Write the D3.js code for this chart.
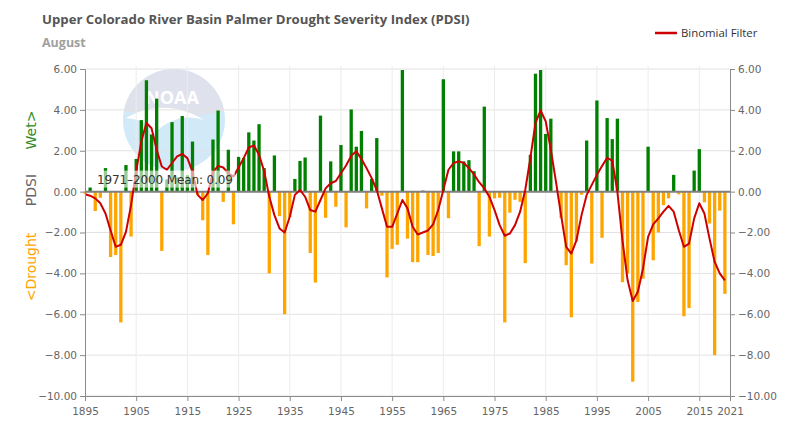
<!DOCTYPE html>
<html>
<head>
<meta charset="utf-8">
<script src="https://cdn.jsdelivr.net/npm/d3@7"></script>
<style>
  html, body { margin: 0; padding: 0; background: #fff; }
  svg { display: block; font-family: "DejaVu Sans", Verdana, sans-serif; }
</style>
</head>
<body>
<svg id="chart" width="800" height="443"></svg>
<script>
// August PDSI, Upper Colorado River Basin, one value per year from 1895
const firstYear = 1895;
const pdsi = [
  -0.1, 0.2, -0.95, -0.3, 1.15, -3.2, -3.1, -6.4, 1.3, -2.2,      // 1895-1904
  1.6, 3.5, 5.45, 2.8, 4.55, -2.9, 0.6, 3.4, 0.7, 3.7,            // 1905-1914
  0.8, 2.45, -0.15, -1.4, -3.1, 2.55, 3.97, -0.5, 2.05, -1.6,     // 1915-1924
  1.7, 1.65, 2.9, 2.5, 3.3, 1.15, -4.0, 1.77, -1.2, -6.0,         // 1925-1934
  -1.25, 0.62, 1.5, 1.67, -3.0, -4.45, 3.72, -1.28, 1.48, -0.74,  // 1935-1944
  2.28, -1.75, 4.02, 2.2, 2.97, -0.82, 0.62, 2.62, -0.2, -4.2,    // 1945-1954
  -2.8, -2.6, 5.95, -2.3, -3.45, -3.45, 0.05, -3.1, -3.15, -3.0,  // 1955-1964
  5.5, -1.3, 1.97, 1.97, 1.48, 1.54, 1.0, -2.67, 4.16, -2.2,      // 1965-1974
  -0.33, -0.3, -6.4, -1.03, -0.4, -0.5, -3.5, 1.8, 5.77, 5.95,    // 1975-1984
  2.82, 3.57, 0.05, -1.3, -3.6, -6.15, -2.43, -0.15, 2.5, -3.52,  // 1985-1994
  4.46, -2.26, 3.6, 2.57, 3.57, -4.43, -4.0, -9.3, -5.4, -4.26,   // 1995-2004
  2.2, -3.36, -2.0, -0.66, -0.33, 0.82, -0.13, -6.1, -5.7, 1.03,  // 2005-2014
  2.08, -0.52, -1.56, -8.0, -0.93, -5.0                           // 2015-2020
];
const binomial = [
  -0.13, -0.2, -0.33, -0.57, -1.07, -1.9, -2.7, -2.6, -1.97, -0.66,
  1.0, 2.45, 3.36, 3.1, 2.05, 1.23, 1.07, 1.4, 1.72, 1.84,
  1.64, 0.98, -0.16, -0.41, -0.08, 0.95, 1.26, 1.18, 0.9, 0.74,
  1.18, 1.64, 2.16, 2.26, 1.8, 1.0, -0.25, -1.15, -1.8, -2.0,
  -1.23, -0.16, 0.08, -0.25, -0.9, -0.98, -0.41, 0.16, 0.41, 0.52,
  0.9, 1.28, 1.75, 1.97, 1.6, 1.15, 0.66, 0.08, -0.82, -1.72,
  -1.72, -1.07, -0.41, -0.82, -1.72, -2.1, -2.0, -1.9, -1.6, -0.9,
  0.08, 1.07, 1.4, 1.48, 1.4, 1.15, 0.84, 0.46, 0.16, -0.25,
  -0.9, -1.64, -2.16, -2.05, -1.64, -0.98, 0.08, 1.64, 3.36, 3.97,
  3.44, 2.05, 0.49, -1.15, -2.7, -3.03, -2.38, -1.15, -0.16, 0.33,
  0.82, 1.25, 1.65, 1.52, 0.0, -2.4, -4.34, -5.35, -4.9, -3.77,
  -2.21, -1.6, -1.31, -0.98, -0.7, -0.98, -1.89, -2.7, -2.54, -1.31,
  -0.57, -1.07, -2.3, -3.44, -4.0, -4.34
];
const xTicks = [1895, 1905, 1915, 1925, 1935, 1945, 1955, 1965, 1975, 1985, 1995, 2005, 2015, 2021];
const yTicks = [-10, -8, -6, -4, -2, 0, 2, 4, 6];
const meanLabel = "1971\u20132000 Mean: 0.09";

const rows = pdsi.map((v, i) => ({ year: firstYear + i, value: v, filter: binomial[i] }));

const svg = d3.select("#chart");
const plotL = 85, plotR = 730, plotT = 69, plotB = 396;

const x = d3.scaleLinear().domain([1895, 2021]).range([plotL, plotR]);
const y = d3.scaleLinear().domain([-10, 6]).range([plotB, plotT]);

// faded NOAA watermark behind the plot
const logo = svg.append("g");
logo.append("circle").attr("cx", 174).attr("cy", 120).attr("r", 51).attr("fill", "#d2e9f8");
logo.append("path")
  .attr("d", d3.arc()({ innerRadius: 0, outerRadius: 51, startAngle: -Math.PI / 2.25, endAngle: Math.PI / 2.25 }))
  .attr("transform", "translate(174,120)")
  .attr("fill", "#dfe2ec");
logo.append("path")
  .attr("d", "M126,118 C150,104 178,104 204,120 C186,114 166,118 148,140 C156,126 144,120 126,118 Z")
  .attr("fill", "#fff");
logo.append("text").attr("x", 172).attr("y", 104).attr("text-anchor", "middle")
  .attr("fill", "#fff").attr("font-size", 18).attr("font-weight", "bold")
  .attr("font-family", "Open Sans, sans-serif").text("NOAA");

// grid
svg.append("g").selectAll("line").data(yTicks).join("line")
  .attr("x1", plotL).attr("x2", plotR)
  .attr("y1", d => y(d)).attr("y2", d => y(d))
  .attr("stroke", "#e2e2e2").attr("stroke-width", 1);
svg.append("g").selectAll("line").data(xTicks.slice(1, -1)).join("line")
  .attr("x1", d => x(d)).attr("x2", d => x(d))
  .attr("y1", plotT - 3).attr("y2", plotB)
  .attr("stroke", "#ececec").attr("stroke-width", 1);

// bars
const bw = 3.3;
svg.append("g").selectAll("rect").data(rows).join("rect")
  .attr("x", d => x(d.year) - bw / 2)
  .attr("width", bw)
  .attr("y", d => y(Math.max(0, d.value)))
  .attr("height", d => Math.abs(y(d.value) - y(0)))
  .attr("fill", d => d.value >= 0 ? "#008000" : "#ffa500");

// zero line
svg.append("line").attr("x1", plotL).attr("x2", plotR).attr("y1", y(0)).attr("y2", y(0))
  .attr("stroke", "#808080").attr("stroke-width", 2);

// binomial filter
svg.append("path").datum(rows)
  .attr("d", d3.line().x(d => x(d.year)).y(d => y(d.filter)))
  .attr("fill", "none").attr("stroke", "#cc0000").attr("stroke-width", 2)
  .attr("stroke-linejoin", "round");

// mean label
const ml = svg.append("g").attr("transform", `translate(97,${y(0) - 12})`);
ml.append("rect").attr("x", -2).attr("y", -9).attr("width", 140).attr("height", 17)
  .attr("fill", "#fff").attr("opacity", 0.6);
ml.append("text").attr("x", 0).attr("y", 4).attr("fill", "#333").attr("font-size", 12)
  .attr("textLength", 136).text(meanLabel);

// axes
const fmt = d3.format(".2f");
const yl = d3.axisLeft(y).tickValues(yTicks).tickFormat(fmt).tickSize(5);
const yr = d3.axisRight(y).tickValues(yTicks).tickFormat(fmt).tickSize(5);
const xb = d3.axisBottom(x).tickValues(xTicks).tickFormat(d3.format("d")).tickSize(5);

function styleAxis(g) {
  g.select(".domain").attr("stroke", "#8a8a8a");
  g.selectAll(".tick line").attr("stroke", "#8a8a8a");
  g.selectAll(".tick text").attr("fill", "#666").attr("font-size", 10.5)
    .attr("font-family", "DejaVu Sans, sans-serif");
}
svg.append("g").attr("transform", `translate(${plotL},0)`).call(yl).call(styleAxis);
svg.append("g").attr("transform", `translate(${plotR},0)`).call(yr).call(styleAxis);
svg.append("g").attr("transform", `translate(0,${plotB})`).call(xb).call(styleAxis)
  .selectAll(".tick text").attr("dy", "1.05em");

// y axis titles
const yTitles = [
  { text: "Wet>", at: 130, color: "#2e8b22" },
  { text: "PDSI", at: 190, color: "#666" },
  { text: "<Drought", at: 267, color: "#ffa500" }
];
svg.append("g").selectAll("text").data(yTitles).join("text")
  .attr("transform", d => `translate(36,${d.at}) rotate(-90)`)
  .attr("text-anchor", "middle").attr("font-size", 14)
  .attr("fill", d => d.color).text(d => d.text);

// titles
svg.append("text").attr("x", 42).attr("y", 24).attr("fill", "#555")
  .attr("font-size", 13.2).attr("font-weight", "bold")
  .attr("font-family", "Open Sans, sans-serif")
  .text("Upper Colorado River Basin Palmer Drought Severity Index (PDSI)");
svg.append("text").attr("x", 42).attr("y", 47).attr("fill", "#a0a0a0")
  .attr("font-size", 12.5).attr("font-weight", "bold")
  .attr("font-family", "Open Sans, sans-serif").text("August");

// legend
svg.append("line").attr("x1", 655).attr("x2", 677).attr("y1", 33).attr("y2", 33)
  .attr("stroke", "#cc0000").attr("stroke-width", 2.5);
svg.append("text").attr("x", 681).attr("y", 37).attr("fill", "#333").attr("font-size", 11.4)
  .attr("font-family", "Open Sans, sans-serif").text("Binomial Filter");
</script>
</body>
</html>
